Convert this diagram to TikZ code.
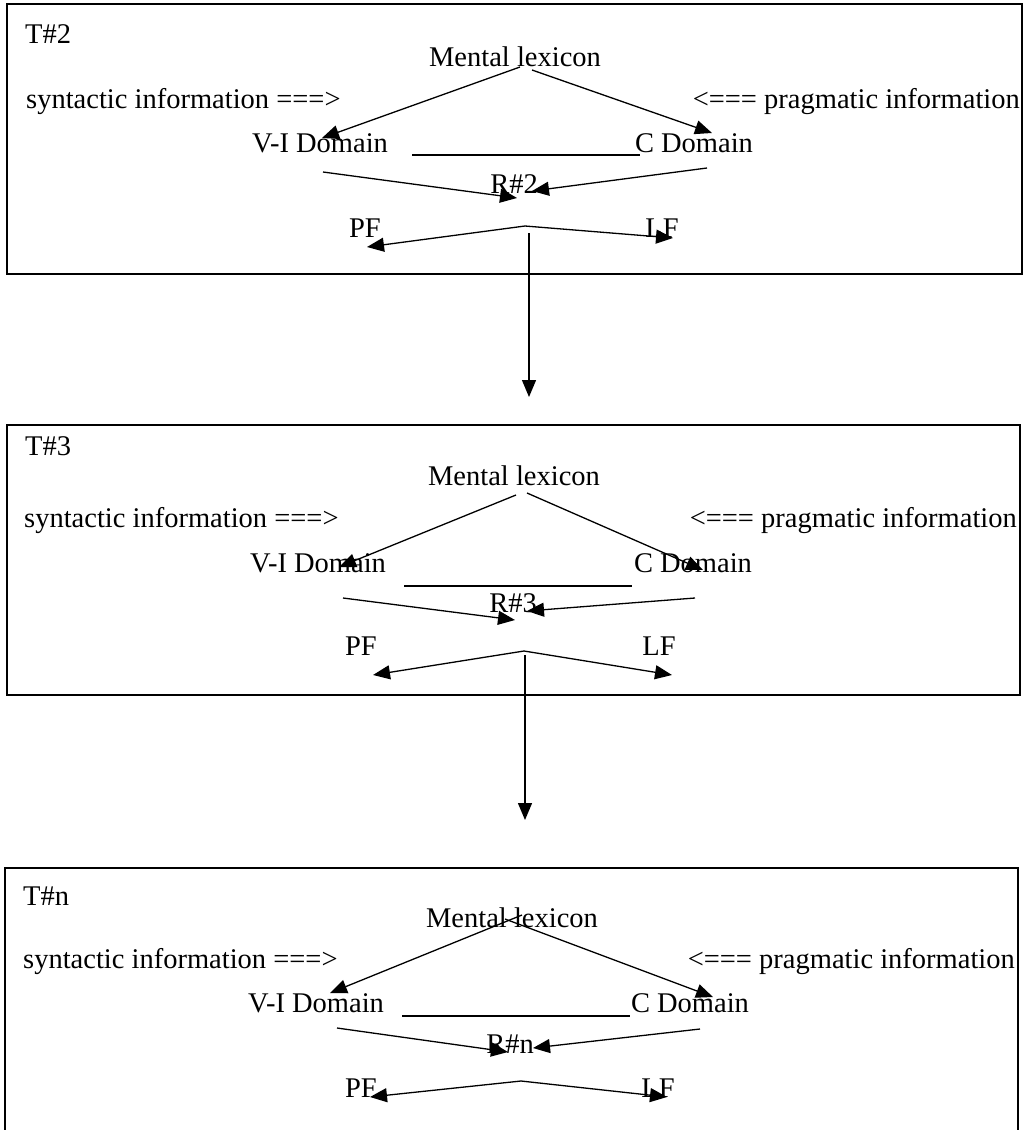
\documentclass[tikz,border=0pt]{standalone}
\usepackage{fontspec}
\setmainfont{Liberation Serif}
\usepackage{tikz}
\usetikzlibrary{arrows.meta}
\usetikzlibrary{calc}

\tikzset{
  txt/.style={inner sep=0pt, font=\fontsize{28.5}{34}\selectfont},
  panel/.style={line width=1.8pt},
  link/.style={line width=1.3pt},
  flow/.style={line width=1.3pt, arrows=-{Triangle[length=17pt,width=14pt]}}
}

\begin{document}
\begin{tikzpicture}[x=1pt,y=1pt]
          \useasboundingbox (0,0) rectangle (1036,-1130);

          % T#2
          \draw [panel] (7,-4) rectangle (1022,-274); % Draws a rectangle
          \node [txt, anchor=base west] (tag2) at (25,-43) {T\#2};
          \node [txt, anchor=base] (ml2) at (515,-66) {Mental lexicon};
          \node [txt, anchor=base west] (syn2) at (26,-108) {syntactic information ===>};
          \node [txt, anchor=base east] (prag2) at (1020,-108) {<=== pragmatic information};
          \node [txt, anchor=base] (vi2) at (320,-152) {V-I Domain};
          \node [txt, anchor=base] (cd2) at (694,-152) {C Domain};
          \node [txt, anchor=base] (r2) at (514,-193) {R\#2};
          \node [txt, anchor=base] (pf2) at (365,-237) {PF};
          \node [txt, anchor=base] (lf2) at (662,-237) {LF};
          \coordinate (fork2) at (525,-226);
          \coordinate (drop2) at (529,-397);

          \draw [link] ([shift={(92,-3)}]vi2.base) -- ([shift={(-54,-3)}]cd2.base);
          \draw [flow] ([shift={(5,-1)}]ml2.base) -- ([shift={(2,14)}]vi2.base);
          \draw [flow] ([shift={(17,-4)}]ml2.base) -- ([shift={(18,19)}]cd2.base);
          \draw [flow] ([shift={(3,-20)}]vi2.base) -- ([shift={(3,-5)}]r2.base);
          \draw [flow] ([shift={(13,-16)}]cd2.base) -- ([shift={(18,2)}]r2.base);
          \draw [flow] (fork2) -- ([shift={(2,-10)}]pf2.base);
          \draw [flow] (fork2) -- ([shift={(11,-1)}]lf2.base);
          \draw [flow] ([shift={(4,-7)}]fork2) -- (drop2);

          % T#3
          \draw [panel] (7,-425) rectangle (1020,-695); % Draws a rectangle
          \node [txt, anchor=base west] (tag3) at (25,-455) {T\#3};
          \node [txt, anchor=base] (ml3) at (514,-485) {Mental lexicon};
          \node [txt, anchor=base west] (syn3) at (24,-527) {syntactic information ===>};
          \node [txt, anchor=base east] (prag3) at (1017,-527) {<=== pragmatic information};
          \node [txt, anchor=base] (vi3) at (318,-572) {V-I Domain};
          \node [txt, anchor=base] (cd3) at (693,-572) {C Domain};
          \node [txt, anchor=base] (r3) at (513,-612) {R\#3};
          \node [txt, anchor=base] (pf3) at (361,-655) {PF};
          \node [txt, anchor=base] (lf3) at (659,-655) {LF};
          \coordinate (fork3) at (524,-651);
          \coordinate (drop3) at (525,-820);

          \draw [link] ([shift={(86,-14)}]vi3.base) -- ([shift={(-61,-14)}]cd3.base);
          \draw [flow] ([shift={(2,-10)}]ml3.base) -- ([shift={(21,5)}]vi3.base);
          \draw [flow] ([shift={(13,-8)}]ml3.base) -- ([shift={(10,2)}]cd3.base);
          \draw [flow] ([shift={(25,-26)}]vi3.base) -- ([shift={(2,-8)}]r3.base);
          \draw [flow] ([shift={(2,-26)}]cd3.base) -- ([shift={(14,1)}]r3.base);
          \draw [flow] (fork3) -- ([shift={(12,-20)}]pf3.base);
          \draw [flow] (fork3) -- ([shift={(13,-20)}]lf3.base);
          \draw [flow] ([shift={(1,-4)}]fork3) -- (drop3);

          % T#n
          \draw [panel] (5,-1133) |- (1018,-868) -- (1018,-1133); % Draws an open rectangle
          \node [txt, anchor=base west] (tagn) at (23,-905) {T\#n};
          \node [txt, anchor=base] (mln) at (512,-927) {Mental lexicon};
          \node [txt, anchor=base west] (synn) at (23,-968) {syntactic information ===>};
          \node [txt, anchor=base east] (pragn) at (1015,-968) {<=== pragmatic information};
          \node [txt, anchor=base] (vin) at (316,-1012) {V-I Domain};
          \node [txt, anchor=base] (cdn) at (690,-1012) {C Domain};
          \node [txt, anchor=base] (rn) at (510,-1053) {R\#n};
          \node [txt, anchor=base] (pfn) at (361,-1097) {PF};
          \node [txt, anchor=base] (lfn) at (658,-1097) {LF};
          \coordinate (forkn) at (521,-1081);

          \draw [link] ([shift={(86,-4)}]vin.base) -- ([shift={(-60,-4)}]cdn.base);
          \draw [flow] ([shift={(10,12)}]mln.base) -- ([shift={(14,19)}]vin.base);
          \draw [flow] ([shift={(-7,8)}]mln.base) -- ([shift={(23,15)}]cdn.base);
          \draw [flow] ([shift={(21,-16)}]vin.base) -- ([shift={(-2,1)}]rn.base);
          \draw [flow] ([shift={(10,-17)}]cdn.base) -- ([shift={(23,5)}]rn.base);
          \draw [flow] (forkn) -- ([shift={(9,0)}]pfn.base);
          \draw [flow] (forkn) -- ([shift={(9,0)}]lfn.base);
        \end{tikzpicture}
\end{document}
